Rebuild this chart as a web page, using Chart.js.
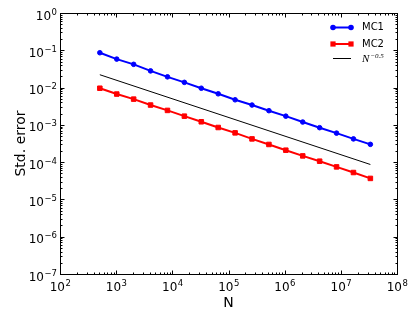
<!DOCTYPE html>
<html>
<head>
<meta charset="utf-8">
<script src="https://cdn.jsdelivr.net/npm/chart.js@4.4.1/dist/chart.umd.min.js"></script>
<style>
  html, body { margin: 0; padding: 0; background: #fff; }
  #wrap { width: 415px; height: 313px; }
</style>
</head>
<body>
<div id="wrap"><canvas id="chart" width="415" height="313"></canvas></div>
<script>
var nValues = [512, 1024, 2048, 4096, 8192, 16384, 32768, 65536, 131072, 262144, 524288,
  1048576, 2097152, 4194304, 8388608, 16777216, 33554432];
var mc1 = [0.086, 0.058, 0.042, 0.028, 0.0194, 0.0138, 0.0096, 0.0068, 0.0047, 0.0034, 0.0024,
  0.00171, 0.00119, 0.00084, 0.00060, 0.00042, 0.00030];
var mc2 = [0.0096, 0.0067, 0.0049, 0.0034, 0.00244, 0.00171, 0.00121, 0.00085, 0.00061, 0.00042, 0.000298,
  0.000209, 0.000147, 0.000106, 0.0000746, 0.0000527, 0.0000366];
var refN = [512, 33554432];
var refErr = [0.0221, 0.0000865];
var xExps = [2, 3, 4, 5, 6, 7, 8];
var yExps = [0, -1, -2, -3, -4, -5, -6, -7];

var tickFont = '12px "DejaVu Sans"';
var supFont = '8.5px "DejaVu Sans"';

function pts(xs, ys) {
  return xs.map(function (x, i) { return { x: x, y: ys[i] }; });
}

function supText(e) {
  return String(e).replace('-', '\u2212');
}

// "10" with a raised exponent
function drawPow(ctx, e, x, baseline, align) {
  ctx.font = tickFont;
  var wb = ctx.measureText('10').width;
  ctx.font = supFont;
  var ws = ctx.measureText(supText(e)).width;
  var total = wb + ws;
  var left = align === 'center' ? x - total / 2 : x - total;
  ctx.textAlign = 'left';
  ctx.textBaseline = 'alphabetic';
  ctx.font = tickFont;
  ctx.fillText('10', left, baseline);
  ctx.font = supFont;
  ctx.fillText(supText(e), left + wb + 0.5, baseline - 5);
}

var axesPlugin = {
  id: 'axesFrame',
  afterDatasetsDraw: function (chart) {
    var ctx = chart.ctx;
    var a = chart.chartArea;
    var xs = chart.scales.x, ys = chart.scales.y;
    ctx.save();
    ctx.strokeStyle = '#000';
    ctx.fillStyle = '#000';
    ctx.lineWidth = 1;
    var L = Math.round(a.left) + 0.5, R = Math.round(a.right) + 0.5;
    var T = Math.round(a.top) + 0.5, B = Math.round(a.bottom) + 0.5;
    ctx.strokeRect(L, T, R - L, B - T);

    ctx.beginPath();
    // x ticks, bottom and top
    for (var i = 0; i < xExps.length; i++) {
      for (var m = 1; m <= 9; m++) {
        var v = m * Math.pow(10, xExps[i]);
        if (v > xs.max * 1.0001) break;
        var px = Math.round(xs.getPixelForValue(v)) + 0.5;
        var len = m === 1 ? 4 : 2;
        ctx.moveTo(px, B); ctx.lineTo(px, B - len);
        ctx.moveTo(px, T); ctx.lineTo(px, T + len);
      }
    }
    // y ticks, left and right
    for (var j = 0; j < yExps.length; j++) {
      for (var k = 1; k <= 9; k++) {
        var w = k * Math.pow(10, yExps[j]);
        if (w > ys.max * 1.0001) break;
        var py = Math.round(ys.getPixelForValue(w)) + 0.5;
        var l2 = k === 1 ? 4 : 2;
        ctx.moveTo(L, py); ctx.lineTo(L + l2, py);
        ctx.moveTo(R, py); ctx.lineTo(R - l2, py);
      }
    }
    ctx.stroke();

    // tick labels
    xExps.forEach(function (e) {
      drawPow(ctx, e, xs.getPixelForValue(Math.pow(10, e)), a.bottom + 17, 'center');
    });
    yExps.forEach(function (e) {
      drawPow(ctx, e, a.left - 3.5, ys.getPixelForValue(Math.pow(10, e)) + 6.5, 'right');
    });

    // axis titles
    ctx.font = '14px "DejaVu Sans"';
    ctx.textAlign = 'center';
    ctx.textBaseline = 'alphabetic';
    ctx.fillText('N', (a.left + a.right) / 2, 307);
    ctx.save();
    ctx.translate(24.5, (a.top + a.bottom) / 2);
    ctx.rotate(-Math.PI / 2);
    ctx.fillText('Std. error', 0, 0);
    ctx.restore();

    // legend
    var lx0 = 333, lx1 = 351, tx = 362;
    var rows = [27.5, 44, 58.5];
    ctx.lineWidth = 2;
    ctx.strokeStyle = '#0000ff';
    ctx.beginPath(); ctx.moveTo(lx0, rows[0]); ctx.lineTo(lx1, rows[0]); ctx.stroke();
    ctx.fillStyle = '#0000ff';
    [lx0, lx1].forEach(function (x) {
      ctx.beginPath(); ctx.arc(x, rows[0], 2.8, 0, Math.PI * 2); ctx.fill();
    });
    ctx.strokeStyle = '#ff0000';
    ctx.beginPath(); ctx.moveTo(lx0, rows[1]); ctx.lineTo(lx1, rows[1]); ctx.stroke();
    ctx.fillStyle = '#ff0000';
    [lx0, lx1].forEach(function (x) {
      ctx.fillRect(x - 2.6, rows[1] - 2.6, 5.2, 5.2);
    });
    ctx.lineWidth = 1;
    ctx.strokeStyle = '#000';
    ctx.beginPath(); ctx.moveTo(lx0, rows[2]); ctx.lineTo(lx1, rows[2]); ctx.stroke();

    ctx.fillStyle = '#000';
    ctx.textAlign = 'left';
    ctx.textBaseline = 'middle';
    ctx.font = '10px "DejaVu Sans"';
    ctx.fillText('MC1', tx, rows[0]);
    ctx.fillText('MC2', tx, rows[1]);
    ctx.textBaseline = 'alphabetic';
    ctx.font = 'italic 11px "Liberation Serif"';
    ctx.fillText('N', tx, rows[2] + 3.5);
    var nw = ctx.measureText('N').width;
    ctx.font = 'italic 7px "Liberation Serif"';
    ctx.fillText('\u22120.5', tx + nw + 1, rows[2] - 1);
    ctx.restore();
  }
};

var ctx = document.getElementById('chart').getContext('2d');
var chart = new Chart(ctx, {
  type: 'scatter',
  data: {
    datasets: [{
      label: 'MC1',
      data: pts(nValues, mc1),
      showLine: true,
      borderColor: '#0000ff',
      backgroundColor: '#0000ff',
      borderWidth: 2,
      pointStyle: 'circle',
      pointRadius: 2.3,
      pointBorderWidth: 1
    }, {
      label: 'MC2',
      data: pts(nValues, mc2),
      showLine: true,
      borderColor: '#ff0000',
      backgroundColor: '#ff0000',
      borderWidth: 2,
      pointStyle: 'rect',
      pointRadius: 3.2,
      pointBorderWidth: 1
    }, {
      label: 'N^-0.5',
      data: pts(refN, refErr),
      showLine: true,
      borderColor: '#000',
      borderWidth: 1,
      pointRadius: 0
    }]
  },
  options: {
    responsive: false,
    animation: false,
    layout: { padding: { left: 60, top: 13, right: 18, bottom: 39 } },
    scales: {
      x: { type: 'logarithmic', min: 100, max: 1e8, display: false },
      y: { type: 'logarithmic', min: 1e-7, max: 1, display: false }
    },
    plugins: {
      legend: { display: false },
      tooltip: { enabled: false }
    }
  },
  plugins: [axesPlugin]
});
</script>
</body>
</html>
